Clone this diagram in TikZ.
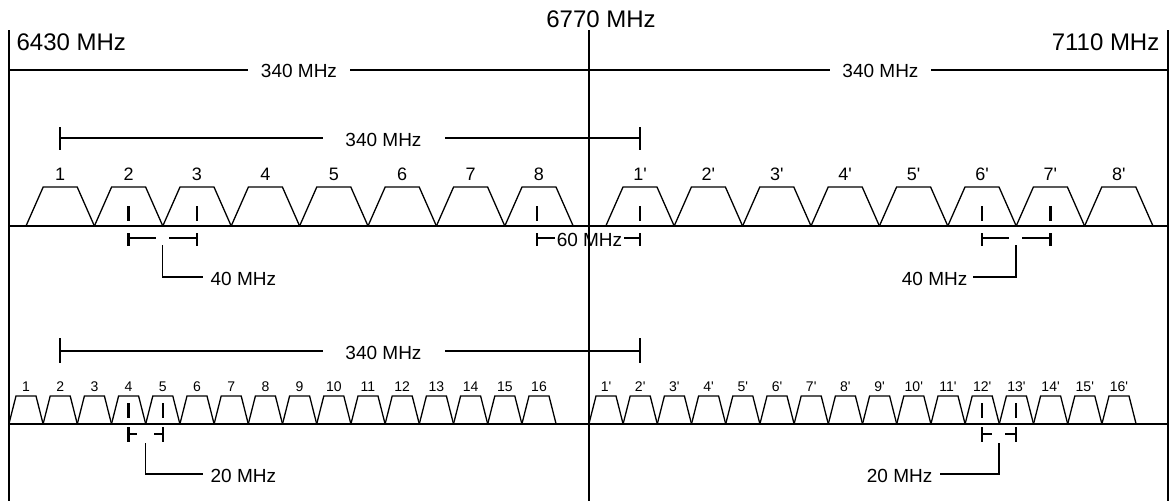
\documentclass[tikz,border=0pt]{standalone}
\usepackage{fontspec}
\setmainfont{Liberation Sans}[Ligatures=TeXOff]
\begin{document}
\begin{tikzpicture}[x=1pt,y=-1pt,line width=1.3pt,line join=miter,
  big/.style={inner sep=0pt,font=\fontsize{24}{24}\selectfont},
  mid/.style={inner sep=0pt,anchor=base,font=\fontsize{19}{19}\selectfont},
  chA/.style={inner sep=0pt,anchor=base,font=\fontsize{18}{18}\selectfont},
  chB/.style={inner sep=0pt,anchor=base,font=\fontsize{14}{14}\selectfont},
  tick/.style={line width=2.4pt},
  trap/.style={line width=1.3pt}]
\useasboundingbox (0,0) rectangle (1171,501);
% frame verticals
\coordinate (L) at (9,30); \coordinate (C) at (589,30); \coordinate (R) at (1168,30);
\draw (L) -- (9,501);
\draw (C) -- (589,501);
\draw (R) -- (1168,501);
% top labels
\node[big,anchor=base west] (f1) at (16,50) {6430 MHz};
\node[big,anchor=base east] (f3) at (1160,50) {7110 MHz};
\node[big,anchor=base] (f2) at (601,27) {6770 MHz};
% top span
\node[mid] (s1) at (299,77) {340 MHz};
\node[mid] (s2) at (880.5,77) {340 MHz};
\draw (9,70) -- (248,70);
\draw (350,70) -- (830,70);
\draw (931,70) -- (1168,70);
% middle 340 bracket
\node[mid] (s3) at (383.5,146) {340 MHz};
\draw (60,138) -- (323,138);
\draw (445,138) -- (640,138);
\draw (60,127) -- (60,150);
\draw (640,127) -- (640,150);
% row 1 baseline
\draw (9,226) -- (1168,226);
% row 1 trapezoids
\foreach \k in {1,...,8}{
  \pgfmathsetmacro{\c}{60.2+(\k-1)*68.4}
  \draw[trap] (\c-34.2,226) -- (\c-17,187) -- (\c+17,187) -- (\c+34.2,226);
  \node[chA] (a\k) at (\c,180) {\k};
  \pgfmathsetmacro{\d}{640+(\k-1)*68.4}
  \draw[trap] (\d-34.2,226) -- (\d-17,187) -- (\d+17,187) -- (\d+34.2,226);
  \node[chA] (ap\k) at (\d,180) {\k'};
}
% row 1 ticks
\foreach \x in {128.6,197,537,640,982,1050.4}{
  \draw[tick] (\x,206) -- (\x,221);
}
% 40 MHz left
\draw[tick] (128.6,233) -- (128.6,246);
\draw[tick] (197,233) -- (197,246);
\draw (128.6,238) -- (156,238);
\draw (169,238) -- (197,238);
\node[mid,anchor=base west] (m40a) at (210,285) {40 MHz};
\draw (162.8,245) -- (162.8,277) -- (203,277);
% 60 MHz
\node[mid] (m60) at (589.5,246) {60 MHz};
\draw[tick] (537,233) -- (537,246);
\draw[tick] (640,233) -- (640,246);
\draw (537,238) -- (555,238);
\draw (624,238) -- (640,238);
% 40 MHz right
\draw[tick] (982,233) -- (982,246);
\draw[tick] (1050.4,233) -- (1050.4,246);
\draw (982,238) -- (1009,238);
\draw (1022,238) -- (1050.4,238);
\node[mid,anchor=base east] (m40b) at (968,285) {40 MHz};
\draw (1016,245) -- (1016,277) -- (973,277);
% bottom 340 bracket
\node[mid] (s4) at (383.5,359) {340 MHz};
\draw (60,351) -- (323,351);
\draw (445,351) -- (640,351);
\draw (60,338) -- (60,363);
\draw (640,338) -- (640,363);
% row 2 baseline
\draw (9,424) -- (1168,424);
\foreach \k in {1,...,16}{
  \pgfmathsetmacro{\c}{26+(\k-1)*34.2}
  \draw[trap] (\c-17.1,424) -- (\c-10,396) -- (\c+10,396) -- (\c+17.1,424);
  \node[chB] (b\k) at (\c,391) {\k};
  \pgfmathsetmacro{\d}{606+(\k-1)*34.2}
  \draw[trap] (\d-17.1,424) -- (\d-10,396) -- (\d+10,396) -- (\d+17.1,424);
  \node[chB] (bp\k) at (\d,391) {\k'};
}
\foreach \x in {128.6,162.8,982,1016.2}{
  \draw[tick] (\x,403) -- (\x,418);
}
% 20 MHz left
\draw[tick] (128.6,427) -- (128.6,442);
\draw[tick] (162.8,427) -- (162.8,442);
\draw (128.6,434) -- (137,434);
\draw (154,434) -- (162.8,434);
\draw (145.5,443) -- (145.5,474) -- (203,474);
\node[mid,anchor=base west] (m20a) at (210,482) {20 MHz};
% 20 MHz right
\draw[tick] (982,427) -- (982,442);
\draw[tick] (1016.2,427) -- (1016.2,442);
\draw (982,434) -- (992,434);
\draw (1005,434) -- (1016.2,434);
\draw (999,443) -- (999,474) -- (940,474);
\node[mid,anchor=base east] (m20b) at (933,482) {20 MHz};
\end{tikzpicture}
\end{document}
